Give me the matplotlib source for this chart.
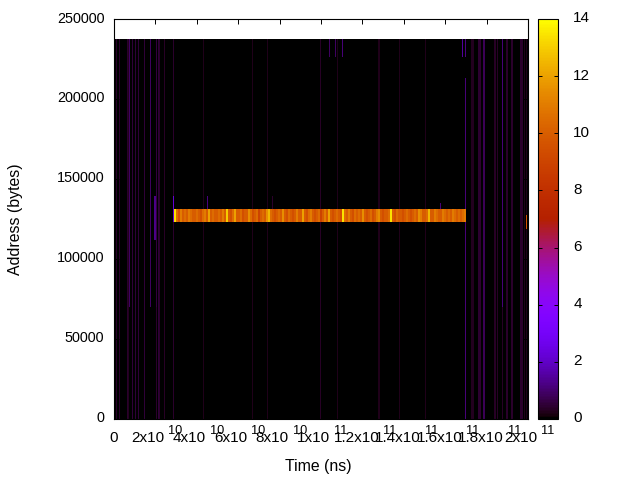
import matplotlib
matplotlib.use("Agg")
import matplotlib.pyplot as plt
from matplotlib.transforms import ScaledTranslation
import numpy as np

plt.rcParams['font.family'] = ['Liberation Sans', 'DejaVu Sans']
plt.rcParams['font.size'] = 10.4

# vertical streaks: time (1e9 ns), address from, address to, count
stripe_time = [1.3, 2.6, 6.4, 7.0, 7.4, 8.7, 10.6, 11.7, 14.8, 17.7, 20.3, 20.3, 21.7, 22.2, 24.3, 28.6,
               43.1, 67.0, 74.0, 99.6, 104.0, 106.9, 107.9, 110.3, 127.7, 128.2, 137.8, 150.5,
               168.4, 170.0, 170.0, 172.6, 173.2, 173.7, 176.0, 176.5, 177.0, 178.4, 178.9, 184.0, 184.5, 185.0,
               187.7, 187.7, 189.7, 190.2, 192.1, 192.6, 196.1, 196.6, 197.1, 198.5, 199.0]
stripe_low = [0, 0, 0, 0, 70000, 0, 0, 0, 0, 70000, 70000, 0, 0, 0, 0, 0,
              0, 0, 0, 0, 226000, 226000, 0, 226000, 0, 0, 0, 0,
              226000, 226000, 0, 0, 0, 0, 0, 0, 0, 0, 0, 0, 0, 0,
              70000, 0, 0, 0, 0, 0, 0, 0, 0, 0, 0]
stripe_high = [237500, 237500, 237500, 237500, 237500, 237500, 237500, 237500, 237500, 237500, 237500, 70000, 237500, 237500, 237500, 237500,
               237500, 237500, 237500, 237500, 237500, 237500, 237500, 237500, 237500, 237500, 237500, 237500,
               237500, 237500, 213000, 237500, 237500, 237500, 237500, 237500, 237500, 237500, 237500, 237500, 237500, 237500,
               237500, 70000, 237500, 237500, 237500, 237500, 237500, 237500, 237500, 237500, 237500]
stripe_value = [0.4, 0.4, 0.4, 0.3, 0.9, 0.5, 0.5, 0.5, 0.5, 0.9, 0.6, 0.4, 0.5, 0.4, 0.35, 0.4,
                0.25, 0.25, 0.25, 0.35, 0.9, 0.9, 0.25, 1.1, 0.25, 0.25, 0.25, 0.25,
                1.5, 1.2, 1.1, 0.3, 0.3, 0.3, 0.45, 0.45, 0.45, 0.8, 0.8, 0.35, 0.35, 0.35,
                1.1, 0.35, 0.4, 0.4, 0.4, 0.4, 0.4, 0.4, 0.4, 0.25, 0.25]

# short streaks around the hot band
short_time = [19.5, 19.9, 28.6, 45.3, 76.5, 157.5, 199.1]
short_low = [112000, 112000, 123000, 131000, 131000, 131000, 119000]
short_high = [139500, 139500, 139500, 139500, 139500, 135000, 127500]
short_value = [1.3, 1.3, 2.2, 1.2, 0.4, 1.1, 9.5]

# hot band, one value per cell
band_low = 123000
band_high = 131000
band_start = 29.0
band_values = [13.5, 10.5, 9.5, 11.0, 10.0, 10.5, 10.0, 11.0, 10.5, 10.0, 10.0, 10.5, 10.0, 9.5, 10.5, 11.0,
               10.0, 12.0, 10.0, 10.5, 10.0, 10.0, 10.5, 10.0, 11.0, 10.0, 13.0, 10.0, 9.5, 10.5, 12.0, 10.0,
               10.0, 10.5, 9.5, 10.0, 10.0, 11.5, 10.5, 9.5, 10.0, 10.5, 9.0, 10.0, 10.5, 10.0, 11.5, 12.5,
               10.5, 10.0, 9.5, 10.0, 10.5, 10.0, 11.5, 10.0, 9.5, 10.5, 10.0, 9.5, 10.0, 11.0, 10.0, 10.0,
               12.0, 10.0, 9.5, 10.5, 11.0, 10.0, 9.5, 10.0, 10.5, 9.0, 10.0, 11.0, 10.0, 12.0, 10.0, 9.5,
               10.0, 10.5, 10.0, 9.5, 13.5, 10.5, 10.0, 11.0, 10.0, 9.5, 10.5, 10.0, 10.5, 10.0, 11.5, 10.0,
               9.5, 10.0, 10.5, 9.5, 10.0, 11.0, 11.5, 10.0, 9.5, 10.0, 10.0, 10.5, 13.5, 10.0, 9.5, 10.5,
               10.0, 10.0, 9.5, 10.0, 10.5, 10.0, 9.5, 10.0, 10.5, 10.0, 11.5, 11.0, 10.0, 10.0, 10.5, 12.5,
               10.0, 10.0, 11.0, 10.5, 10.0, 10.0, 11.0, 10.5, 10.0, 10.5, 10.0, 11.0, 10.5, 10.0, 10.5, 10.0,
               10.5, 11.0]

x_ticks = [0, 2e10, 4e10, 6e10, 8e10, 1e11, 1.2e11, 1.4e11, 1.6e11, 1.8e11, 2e11]
x_mant = ["0", "2x10", "4x10", "6x10", "8x10", "1x10", "1.2x10", "1.4x10", "1.6x10", "1.8x10", "2x10"]
x_exp = ["", "10", "10", "10", "10", "11", "11", "11", "11", "11", "11"]
y_ticks = [0, 50000, 100000, 150000, 200000, 250000]
c_ticks = [0, 2, 4, 6, 8, 10, 12, 14]

time_bin = 0.483  # 1e9 ns per column
addr_bin = 500
top_addr = 237500
grid = np.zeros((top_addr // addr_bin, int(round(200 / time_bin))))


def fill(t, low, high, v, cols=1):
    i = int(t / time_bin)
    grid[low // addr_bin:high // addr_bin, i:i + cols] = v


for t, lo, hi, v in zip(stripe_time, stripe_low, stripe_high, stripe_value):
    fill(t, lo, hi, v)
for t, lo, hi, v in zip(short_time, short_low, short_high, short_value):
    fill(t, lo, hi, v)
for n, v in enumerate(band_values):
    fill(band_start + n * 2 * time_bin, band_low, band_high, v, 2)

fig = plt.figure(figsize=(6.4, 4.8), dpi=100)
ax = fig.add_axes([114 / 640, 61 / 480, 414 / 640, 400 / 480])
im = ax.imshow(grid, origin="lower", extent=[0, 2e11, 0, top_addr], aspect="auto",
               cmap="gnuplot", vmin=0, vmax=14, interpolation="nearest")
ax.set_xlim(0, 2e11)
ax.set_ylim(0, 250000)
ax.set_xticks(x_ticks)
ax.set_xticklabels([])
ax.set_yticks(y_ticks)
ax.tick_params(direction="in", length=3.5, width=0.7, top=True, right=True, pad=7)
for s in ax.spines.values():
    s.set_linewidth(0.8)
ax.set_ylabel("Address (bytes)", fontsize=11.4)
ax.yaxis.set_label_coords(-91 / 414, 0.5)
ax.set_xlabel("Time (ns)", fontsize=11.4)
ax.xaxis.set_label_coords((318 - 114) / 414, -40 / 400)

# gnuplot style labels, exponent set up next to the mantissa
for t, m, e in zip(x_ticks, x_mant, x_exp):
    if e == "":
        ax.annotate(m, (t, 0), xycoords=("data", "axes fraction"), xytext=(0, -13.5),
                    textcoords="offset points", ha="center", va="center", fontsize=11)
        continue
    off = 21 if "." in m else 13
    ax.annotate(m, (t, 0), xycoords=("data", "axes fraction"), xytext=((off - 4) * 0.72, -13.5),
                textcoords="offset points", ha="right", va="center", fontsize=11)
    ax.annotate(e, (t, 0), xycoords=("data", "axes fraction"), xytext=(off * 0.72, -9),
                textcoords="offset points", ha="left", va="center", fontsize=9.2)

cax = fig.add_axes([538 / 640, 61 / 480, 20 / 640, 400 / 480])
cb = fig.colorbar(im, cax=cax)
cb.set_ticks(c_ticks)
cax.tick_params(direction="in", length=3, width=0.7, left=True, right=True, pad=11, labelsize=11)
cb.outline.set_linewidth(0.8)

# labels sit 2px above their ticks in the original
up = ScaledTranslation(0, 2 / 100, fig.dpi_scale_trans)
for lab in ax.get_yticklabels() + cax.get_yticklabels():
    lab.set_transform(lab.get_transform() + up)

fig.savefig("out.png", dpi=100)
